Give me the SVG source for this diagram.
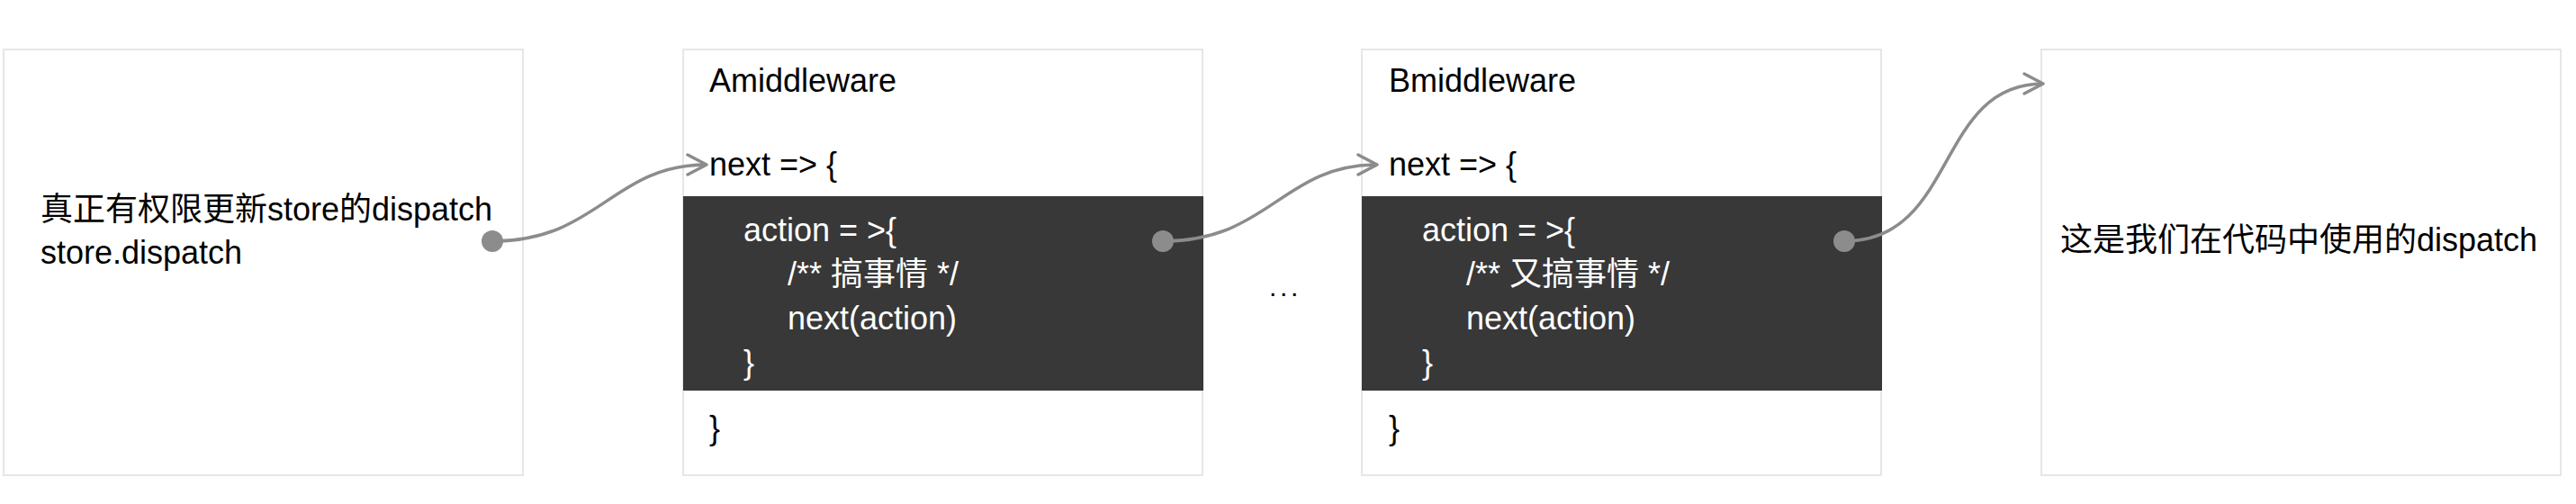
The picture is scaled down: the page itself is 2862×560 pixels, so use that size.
<svg xmlns="http://www.w3.org/2000/svg" width="2862" height="560" viewBox="0 0 2862 560">
<style>
.box{fill:#ffffff;stroke:#e6e6e6;stroke-width:2}
.band{fill:#383838}
.t{font-family:"Liberation Sans","Noto Sans CJK SC",sans-serif;font-size:36px;fill:#000000}
.w{fill:#ffffff}
.conn{fill:none;stroke:#8c8c8c;stroke-width:3.5}
.dot{fill:#8c8c8c}
</style>
<defs>
<marker id="arr" markerUnits="userSpaceOnUse" markerWidth="40" markerHeight="40" viewBox="-30 -20 40 40" refX="0" refY="0" orient="auto">
<path d="M -21 -11 L 0 0 L -21 11" fill="none" stroke="#8c8c8c" stroke-width="3.5" stroke-linecap="round" stroke-linejoin="round"/>
</marker>
</defs>
<rect width="2862" height="560" fill="#ffffff"/>
<g id="node-store">
<rect class="box" x="4" y="55" width="577" height="473"/>
<text class="t" x="45" y="245">真正有权限更新store的dispatch</text>
<text class="t" x="45" y="293">store.dispatch</text>
</g>
<g id="node-amiddleware">
<rect class="box" x="759" y="55" width="577" height="473"/>
<rect class="band" x="759" y="218" width="578" height="216"/>
<text class="t" x="788" y="102">Amiddleware</text>
<text class="t" x="788" y="195">next =&gt; {</text>
<text class="t w" x="826" y="268">action = &gt;{</text>
<text class="t w" x="875" y="317">/** 搞事情 */</text>
<text class="t w" x="875" y="366">next(action)</text>
<text class="t w" x="826" y="415">}</text>
<text class="t" x="788" y="488">}</text>
</g>
<g id="node-ellipsis">
<text class="t" x="1410" y="329" style="font-size:30px;letter-spacing:3.7px">...</text>
</g>
<g id="node-bmiddleware">
<rect class="box" x="1513" y="55" width="577" height="473"/>
<rect class="band" x="1513" y="218" width="578" height="216"/>
<text class="t" x="1543" y="102">Bmiddleware</text>
<text class="t" x="1543" y="195">next =&gt; {</text>
<text class="t w" x="1580" y="268">action = &gt;{</text>
<text class="t w" x="1629" y="317">/** 又搞事情 */</text>
<text class="t w" x="1629" y="366">next(action)</text>
<text class="t w" x="1580" y="415">}</text>
<text class="t" x="1543" y="488">}</text>
</g>
<g id="node-dispatch">
<rect class="box" x="2268" y="55" width="577" height="473"/>
<text class="t" x="2289" y="279">这是我们在代码中使用的dispatch</text>
</g>
<g id="connectors">
<path class="conn" d="M 547 268 C 665 268, 680 183, 785 183" marker-end="url(#arr)"/>
<circle class="dot" cx="547" cy="268" r="12"/>
<path class="conn" d="M 1292 268 C 1410 268, 1425 183, 1530 183" marker-end="url(#arr)"/>
<circle class="dot" cx="1292" cy="268" r="12"/>
<path class="conn" d="M 2049 268 C 2175 268, 2150 93, 2270 93" marker-end="url(#arr)"/>
<circle class="dot" cx="2049" cy="268" r="12"/>
</g>
</svg>
